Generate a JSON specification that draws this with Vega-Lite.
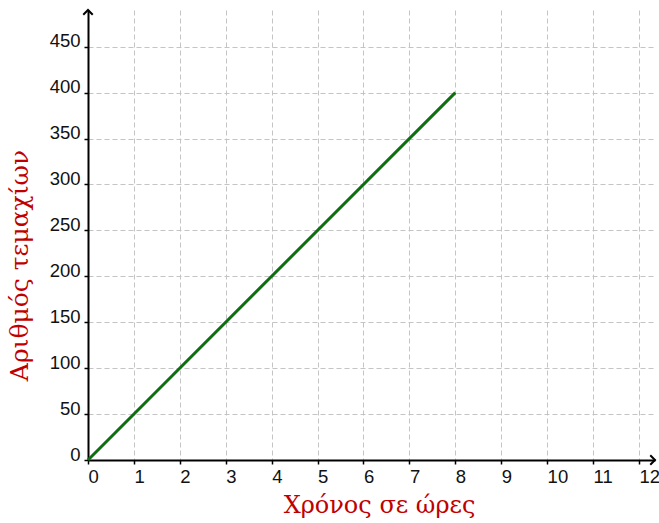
{
  "$schema": "https://vega.github.io/schema/vega-lite/v6.json",
  "width": 567,
  "height": 450,
  "autosize": "none",
  "padding": {"left": 88, "top": 10, "right": 4, "bottom": 63},
  "background": "white",
  "config": {"view": {"stroke": null}},
  "layer": [
    {
      "data": {"values": [{"t": 0, "n": 0}, {"t": 8, "n": 400}]},
      "mark": {"type": "line", "color": "#0f6e12", "strokeWidth": 3},
      "encoding": {
        "x": {
          "field": "t", "type": "quantitative",
          "scale": {"domain": [0, 12.35], "nice": false, "zero": false},
          "axis": {
            "title": "Χρόνος σε ώρες",
            "values": [0,1,2,3,4,5,6,7,8,9,10,11,12],
            "domainColor": "black", "domainWidth": 2,
            "tickColor": "black", "tickWidth": 1.5, "tickSize": 4,
            "grid": true, "gridColor": "#c4c4c4", "gridDash": [5, 3], "gridWidth": 1,
            "labelFont": "Liberation Sans", "labelFontSize": 18.5, "labelColor": "#111",
            "labelAlign": "left", "labelDx": 0, "labelPadding": 3, "labelBaseline": "top",
            "labelFlush": false, "labelOverlap": false,
            "titleFont": "DejaVu Serif", "titleFontSize": 24, "titleFontWeight": "normal",
            "titleColor": "#c00000", "titleX": 291, "titleY": 52, "titleBaseline": "alphabetic", "titleAlign": "center"
          }
        },
        "y": {
          "field": "n", "type": "quantitative",
          "scale": {"domain": [0, 490], "nice": false, "zero": false},
          "axis": {
            "title": "Αριθμός  τεμαχίων",
            "values": [0,50,100,150,200,250,300,350,400,450],
            "domainColor": "black", "domainWidth": 2,
            "tickColor": "black", "tickWidth": 1.5, "tickSize": 4,
            "grid": true, "gridColor": "#c4c4c4", "gridDash": [5, 3], "gridWidth": 1,
            "labelFont": "Liberation Sans", "labelFontSize": 18.5, "labelColor": "#111",
            "labelAlign": "right", "labelBaseline": "alphabetic", "labelDy": -3, "labelPadding": 4,
            "labelFlush": false, "labelOverlap": false,
            "titleFont": "DejaVu Serif", "titleFontSize": 25, "titleFontWeight": "normal",
            "titleColor": "#c00000", "titleAngle": -90, "titleX": -61, "titleY": 255,
            "titleBaseline": "alphabetic", "titleAlign": "center"
          }
        }
      }
    },
    {
      "data": {"values": [{"t": 12.35, "n": 0}]},
      "mark": {"type": "point", "shape": "M-1,-1L0,0L-1,1", "filled": false, "stroke": "black", "strokeWidth": 2, "size": 90, "opacity": 1},
      "encoding": {
        "x": {"field": "t", "type": "quantitative"},
        "y": {"field": "n", "type": "quantitative"}
      }
    },
    {
      "data": {"values": [{"t": 0, "n": 490}]},
      "mark": {"type": "point", "shape": "M-1,1L0,0L1,1", "filled": false, "stroke": "black", "strokeWidth": 2, "size": 90, "opacity": 1},
      "encoding": {
        "x": {"field": "t", "type": "quantitative"},
        "y": {"field": "n", "type": "quantitative"}
      }
    }
  ]
}
